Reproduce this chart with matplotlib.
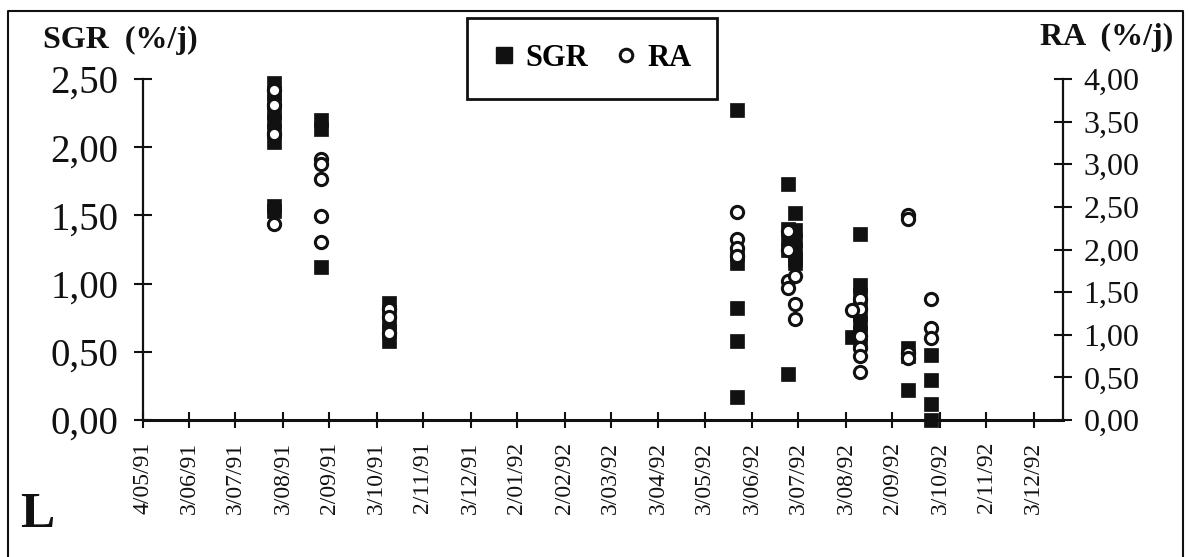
import datetime as dt
import matplotlib
matplotlib.use("Agg")
import matplotlib.pyplot as plt
from matplotlib.lines import Line2D

# tick labels as printed on the chart
x_tick_labels = ["4/05/91", "3/06/91", "3/07/91", "3/08/91", "2/09/91", "3/10/91",
                 "2/11/91", "3/12/91", "2/01/92", "2/02/92", "3/03/92", "3/04/92",
                 "3/05/92", "3/06/92", "3/07/92", "3/08/92", "2/09/92", "3/10/92",
                 "2/11/92", "3/12/92"]
sgr_ticks = [0.0, 0.5, 1.0, 1.5, 2.0, 2.5]
sgr_tick_labels = ["0,00", "0,50", "1,00", "1,50", "2,00", "2,50"]
ra_ticks = [0.0, 0.5, 1.0, 1.5, 2.0, 2.5, 3.0, 3.5, 4.0]
ra_tick_labels = ["0,00", "0,50", "1,00", "1,50", "2,00", "2,50", "3,00", "3,50", "4,00"]

# SGR (%/j), left axis
sgr_dates = (["28/07/91"] * 9 + ["28/08/91"] * 3 + ["11/10/91"] * 5
             + ["24/05/92"] * 6 + ["26/06/92"] * 5 + ["01/07/92"] * 6
             + ["12/08/92"] * 8 + ["07/08/92"] + ["12/09/92"] * 3 + ["27/09/92"] * 4)
sgr_values = ([2.47, 2.40, 2.33, 2.26, 2.19, 2.12, 2.04, 1.57, 1.53]
              + [2.20, 2.13, 1.12]
              + [0.86, 0.79, 0.72, 0.65, 0.58]
              + [2.27, 1.22, 1.15, 0.82, 0.58, 0.17]
              + [1.73, 1.40, 1.33, 1.25, 0.34]
              + [1.52, 1.39, 1.32, 1.25, 1.18, 1.15]
              + [1.36, 0.99, 0.92, 0.85, 0.78, 0.71, 0.64, 0.57]
              + [0.61]
              + [0.53, 0.47, 0.22]
              + [0.48, 0.29, 0.12, 0.0])

# RA (%/j), right axis
ra_dates = (["28/07/91"] * 4 + ["28/08/91"] * 5 + ["11/10/91"] * 3
            + ["24/05/92"] * 4 + ["26/06/92"] * 4 + ["01/07/92"] * 3
            + ["12/08/92"] * 6 + ["07/08/92"] + ["12/09/92"] * 4 + ["27/09/92"] * 3)
ra_values = ([3.87, 3.70, 3.35, 2.30]
             + [3.06, 3.00, 2.83, 2.39, 2.09]
             + [1.30, 1.21, 1.02]
             + [2.44, 2.12, 2.02, 1.92]
             + [2.22, 2.00, 1.63, 1.55]
             + [1.69, 1.36, 1.19]
             + [1.42, 1.30, 0.99, 0.85, 0.75, 0.56]
             + [1.29]
             + [2.41, 2.36, 0.79, 0.73]
             + [1.42, 1.08, 0.96])


def to_date(s):
    return dt.datetime.strptime(s, "%d/%m/%y")


serif = "Liberation Serif"
ink = "#111111"

fig = plt.figure(figsize=(11.88, 5.57), dpi=100)
ax = fig.add_axes([143 / 1188, 137 / 557, 920 / 1188, 341 / 557])
ax2 = ax.twinx()

ax.plot([to_date(d) for d in sgr_dates], sgr_values, ls="none", marker="s",
        ms=10.3, mfc=ink, mec=ink, mew=0.5, clip_on=False)
ax2.plot([to_date(d) for d in ra_dates], ra_values, ls="none", marker="o",
         ms=8.8, mfc="white", mec=ink, mew=2.2, clip_on=False)

start = to_date(x_tick_labels[0])
ax.set_xlim(start, start + dt.timedelta(days=598))
ax.set_ylim(0, 2.5)
ax2.set_ylim(0, 4.0)

ax.set_xticks([to_date(s) for s in x_tick_labels])
ax.set_xticklabels(x_tick_labels, rotation=90, family=serif, fontsize=17)
ax.set_yticks(sgr_ticks)
ax.set_yticklabels(sgr_tick_labels, family=serif, fontsize=28)
ax2.set_yticks(ra_ticks)
ax2.set_yticklabels(ra_tick_labels, family=serif, fontsize=23)

ax.tick_params(axis="x", direction="inout", length=11.5, width=1.5, pad=10, colors=ink)
ax.tick_params(axis="y", direction="inout", length=13.5, width=1.5, pad=11, colors=ink)
ax2.tick_params(axis="y", direction="inout", length=13.5, width=1.5, pad=8, colors=ink)

for a in (ax, ax2):
    a.spines["top"].set_visible(False)
    for side in ("left", "right", "bottom"):
        a.spines[side].set_linewidth(1.6)
        a.spines[side].set_color(ink)
ax.spines["bottom"].set_linewidth(2.2)
ax.spines["right"].set_visible(False)
ax2.spines["left"].set_visible(False)
ax2.spines["bottom"].set_visible(False)

# axis titles and panel letter
fig.text(43 / 1188, 1 - 48 / 557, "SGR  (%/j)", family=serif, weight="bold",
         fontsize=23, ha="left", va="baseline", color=ink)
fig.text(1173 / 1188, 1 - 45 / 557, "RA  (%/j)", family=serif, weight="bold",
         fontsize=23, ha="right", va="baseline", color=ink)
fig.text(20 / 1188, 1 - 527 / 557, "L", family=serif, weight="bold",
         fontsize=37, ha="left", va="baseline", color=ink)

# legend
handles = [Line2D([], [], ls="none", marker="s", ms=11, mfc=ink, mec=ink),
           Line2D([], [], ls="none", marker="o", ms=9, mfc="white", mec=ink, mew=2.2)]
leg = fig.legend(handles, ["SGR", "RA"], ncol=2, loc="upper left",
                 bbox_to_anchor=(467 / 1188, 1 - 18 / 557),
                 prop={"family": serif, "weight": "bold", "size": 22},
                 frameon=True, fancybox=False, edgecolor=ink, framealpha=1,
                 borderpad=0.85, handlelength=0.7, handletextpad=0.35,
                 columnspacing=0.9, borderaxespad=0)
leg.get_frame().set_linewidth(2)

# outer frame of the figure panel
frame_x = [8 / 1188, 8 / 1188, 1183 / 1188, 1183 / 1188]
frame_y = [0.0, 1 - 11 / 557, 1 - 11 / 557, 0.0]
fig.add_artist(Line2D(frame_x, frame_y, transform=fig.transFigure, color=ink, lw=1.5))

fig.savefig("out.png", dpi=100)
